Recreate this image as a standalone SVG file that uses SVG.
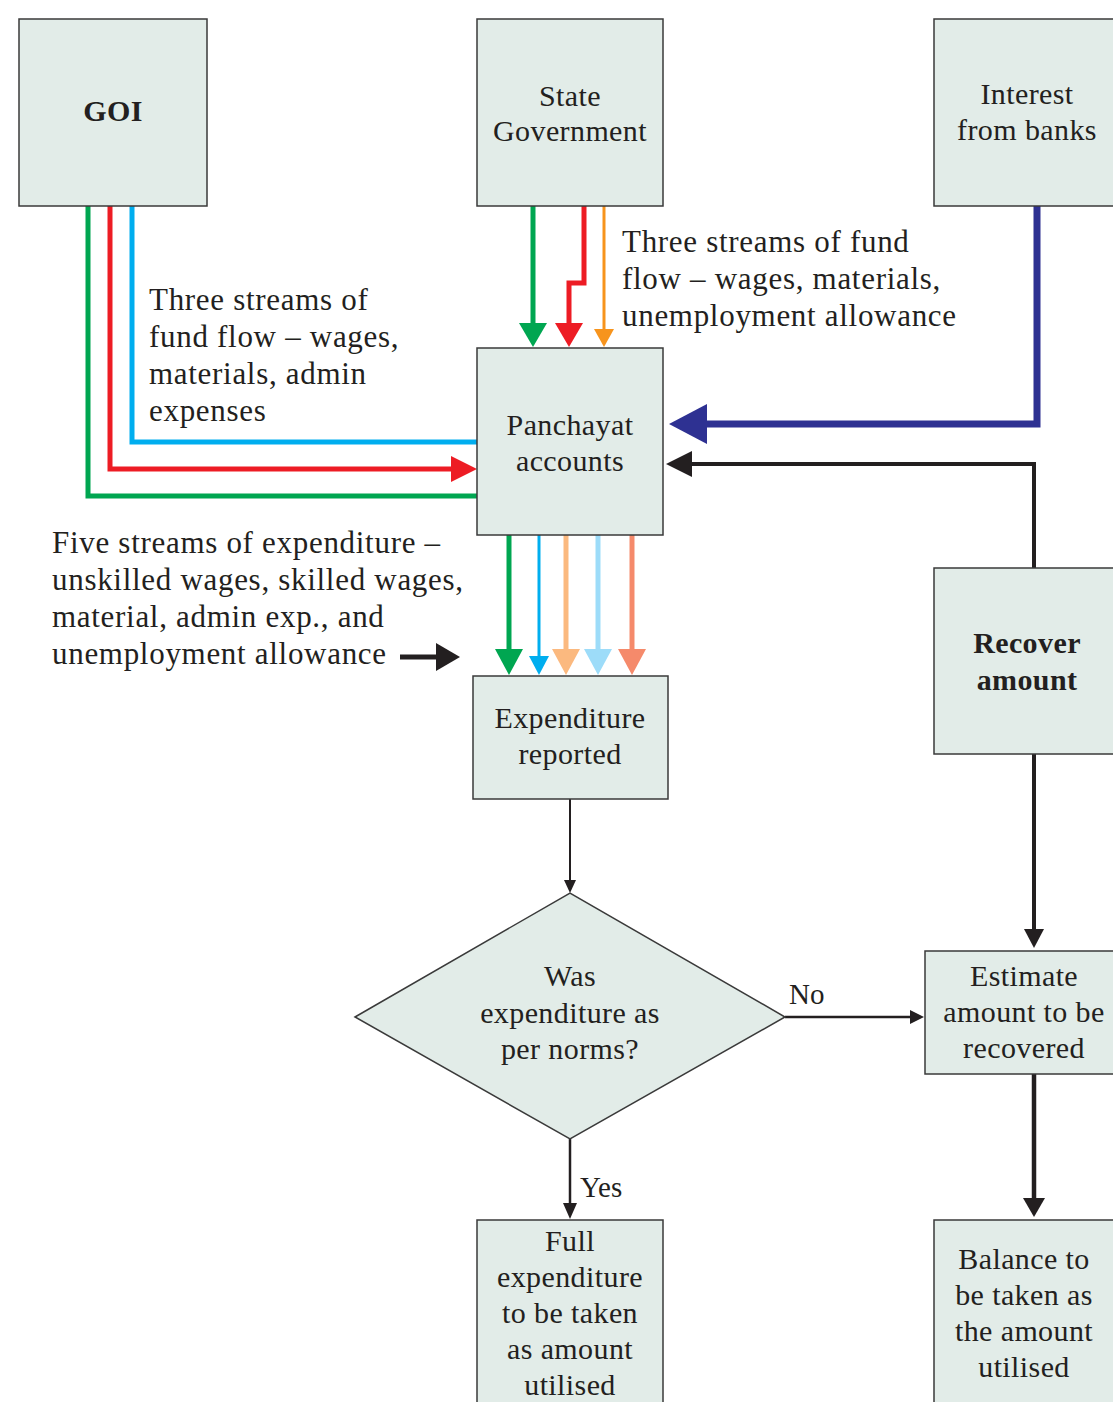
<svg xmlns="http://www.w3.org/2000/svg" width="1113" height="1402" viewBox="0 0 1113 1402">
<style>
.box{fill:#e2ece8;stroke:#3a3a3a;stroke-width:1.5}
text{font-family:"Liberation Serif","DejaVu Serif",serif;font-size:30px;letter-spacing:0.4px;fill:#231f20}
.c{text-anchor:middle}
.b{font-weight:bold}
.lb{font-size:31px;letter-spacing:0.7px}
.yn{font-size:29px;letter-spacing:0}
.ln{fill:none;stroke-linejoin:miter}
</style>
<rect width="1113" height="1402" fill="#fff"/>
<g id="connectors">
  <polyline class="ln" points="88,206 88,496 477,496" stroke="#00a651" stroke-width="5"/>
  <polyline class="ln" points="110,206 110,469 452,469" stroke="#ed1c24" stroke-width="5"/>
  <polygon points="451,456 477,469 451,482" fill="#ed1c24"/>
  <polyline class="ln" points="132,206 132,442 477,442" stroke="#00aeef" stroke-width="5"/>
  <line x1="533" y1="206" x2="533" y2="324" stroke="#00a651" stroke-width="5"/>
  <polygon points="519,323 547,323 533,347" fill="#00a651"/>
  <polyline class="ln" points="584,206 584,283 569,283 569,324" stroke="#ed1c24" stroke-width="5"/>
  <polygon points="555,323 583,323 569,347" fill="#ed1c24"/>
  <line x1="604" y1="206" x2="604" y2="330" stroke="#f7941d" stroke-width="3"/>
  <polygon points="594,329 614,329 604,347" fill="#f7941d"/>
  <polyline class="ln" points="1037,206 1037,424 705,424" stroke="#2e3192" stroke-width="7"/>
  <polygon points="707,404 707,444 669,424" fill="#2e3192"/>
  <polyline class="ln" points="1034,568 1034,464 690,464" stroke="#231f20" stroke-width="4"/>
  <polygon points="692,451 692,477 666,464" fill="#231f20"/>
  <line x1="509" y1="535" x2="509" y2="650" stroke="#00a651" stroke-width="5"/>
  <polygon points="495,649 523,649 509,675" fill="#00a651"/>
  <line x1="539" y1="535" x2="539" y2="657" stroke="#00aeef" stroke-width="3"/>
  <polygon points="529,656 549,656 539,675" fill="#00aeef"/>
  <line x1="566" y1="535" x2="566" y2="650" stroke="#fbb97f" stroke-width="5"/>
  <polygon points="552,649 580,649 566,675" fill="#fbb97f"/>
  <line x1="598" y1="535" x2="598" y2="650" stroke="#9ddcf9" stroke-width="5"/>
  <polygon points="584,649 612,649 598,675" fill="#9ddcf9"/>
  <line x1="632" y1="535" x2="632" y2="650" stroke="#f58a6b" stroke-width="5"/>
  <polygon points="618,649 646,649 632,675" fill="#f58a6b"/>
  <line x1="400" y1="657" x2="438" y2="657" stroke="#231f20" stroke-width="5"/>
  <polygon points="436,643 460,657 436,671" fill="#231f20"/>
  <line x1="570" y1="799" x2="570" y2="882" stroke="#231f20" stroke-width="2"/>
  <polygon points="564,880 576,880 570,893" fill="#231f20"/>
  <line x1="785" y1="1017" x2="912" y2="1017" stroke="#231f20" stroke-width="2.5"/>
  <polygon points="910,1010 924,1017 910,1024" fill="#231f20"/>
  <line x1="570" y1="1139" x2="570" y2="1205" stroke="#231f20" stroke-width="2.5"/>
  <polygon points="563,1203 577,1203 570,1219" fill="#231f20"/>
  <line x1="1034" y1="754" x2="1034" y2="930" stroke="#231f20" stroke-width="4"/>
  <polygon points="1024,929 1044,929 1034,948" fill="#231f20"/>
  <line x1="1034" y1="1074" x2="1034" y2="1199" stroke="#231f20" stroke-width="4.5"/>
  <polygon points="1023,1198 1045,1198 1034,1217" fill="#231f20"/>
</g>
<g id="goi"><rect class="box" x="19" y="19" width="188" height="187"/><text class="c b" x="113" y="121">GOI</text></g>
<g id="state"><rect class="box" x="477" y="19" width="186" height="187"/><text class="c" x="570" y="106">State</text><text class="c" x="570" y="141">Government</text></g>
<g id="interest"><rect class="box" x="934" y="19" width="185" height="187"/><text class="c" x="1027" y="104">Interest</text><text class="c" x="1027" y="140">from banks</text></g>
<g id="panchayat"><rect class="box" x="477" y="348" width="186" height="187"/><text class="c" x="570" y="435">Panchayat</text><text class="c" x="570" y="471">accounts</text></g>
<g id="expenditure"><rect class="box" x="473" y="676" width="195" height="123"/><text class="c" x="570" y="728">Expenditure</text><text class="c" x="570" y="764">reported</text></g>
<g id="recover"><rect class="box" x="934" y="568" width="185" height="186"/><text class="c b" x="1027" y="653">Recover</text><text class="c b" x="1027" y="690">amount</text></g>
<g id="decision"><polygon class="box" points="355,1017 570,893 785,1017 570,1139"/><text class="c" x="570" y="986">Was</text><text class="c" x="570" y="1023">expenditure as</text><text class="c" x="570" y="1059">per norms?</text></g>
<g id="estimate"><rect class="box" x="925" y="951" width="194" height="123"/><text class="c" x="1024" y="986">Estimate</text><text class="c" x="1024" y="1022">amount to be</text><text class="c" x="1024" y="1058">recovered</text></g>
<g id="full"><rect class="box" x="477" y="1220" width="186" height="190"/><text class="c" x="570" y="1251">Full</text><text class="c" x="570" y="1287">expenditure</text><text class="c" x="570" y="1323">to be taken</text><text class="c" x="570" y="1359">as amount</text><text class="c" x="570" y="1395">utilised</text></g>
<g id="balance"><rect class="box" x="934" y="1220" width="185" height="190"/><text class="c" x="1024" y="1269">Balance to</text><text class="c" x="1024" y="1305">be taken as</text><text class="c" x="1024" y="1341">the amount</text><text class="c" x="1024" y="1377">utilised</text></g>
<g id="labels">
  <text class="lb" x="622" y="252">Three streams of fund</text>
  <text class="lb" x="622" y="289">flow – wages, materials,</text>
  <text class="lb" x="622" y="326">unemployment allowance</text>
  <text class="lb" x="149" y="310">Three streams of</text>
  <text class="lb" x="149" y="347">fund flow – wages,</text>
  <text class="lb" x="149" y="384">materials, admin</text>
  <text class="lb" x="149" y="421">expenses</text>
  <text class="lb" x="52" y="553">Five streams of expenditure –</text>
  <text class="lb" x="52" y="590">unskilled wages, skilled wages,</text>
  <text class="lb" x="52" y="627">material, admin exp., and</text>
  <text class="lb" x="52" y="664">unemployment allowance</text>
  <text class="yn" x="789" y="1004">No</text>
  <text class="yn" x="580" y="1197">Yes</text>
</g>
</svg>
